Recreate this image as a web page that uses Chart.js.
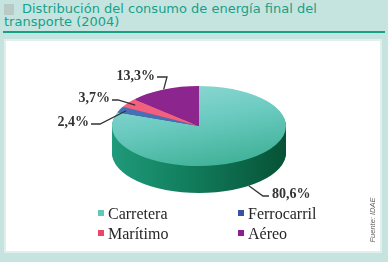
<!DOCTYPE html>
<html>
<head>
<meta charset="utf-8">
<script src="https://cdn.jsdelivr.net/npm/chart.js@4.4.1/dist/chart.umd.min.js"></script>
<style>
  body { margin: 0; width: 388px; height: 262px; background: #c6e4df; position: relative; overflow: hidden; font-family: "Liberation Sans", Arial, sans-serif; }
  .sq { position: absolute; left: 4px; top: 4px; width: 10px; height: 11px; background: #b9c9c5; }
  .title { position: absolute; left: 4px; top: 2px; width: 384px; font-family: "DejaVu Sans", sans-serif; font-size: 13px; line-height: 13px; color: #17a089; text-indent: 18px; white-space: nowrap; }
  .rule { position: absolute; left: 3px; top: 31px; width: 382px; height: 2px; background: #16a086; }
  .panel { position: absolute; left: 4px; top: 39px; width: 374px; height: 210px; background: #fff; border: 2px solid #e0efec; }
  #legend { position: absolute; left: 0; top: 0; font-family: "Liberation Serif", "Times New Roman", serif; font-size: 16px; color: #262626; }
  #legend div { position: absolute; white-space: nowrap; }
  #legend span { display: inline-block; width: 6px; height: 6px; margin-right: 4px; vertical-align: 3px; }
  .src { position: absolute; left: 351px; top: 217px; width: 42px; font-size: 7.5px; font-style: italic; color: #666; transform: rotate(-90deg); text-align: center; white-space: nowrap; }
  #wrap { position: absolute; left: 0; top: 0; width: 388px; height: 262px; }
</style>
</head>
<body>
<div class="sq"></div>
<div class="title">Distribución del consumo de energía final del<br>transporte (2004)</div>
<div class="rule"></div>
<div class="panel"></div>
<div id="wrap"><canvas id="pie"></canvas></div>
<div id="legend"></div>
<div class="src">Fuente: IDAE</div>
<script>
// ── Data ─────────────────────────────────────────────────────
const categories = ['Carretera', 'Ferrocarril', 'Marítimo', 'Aéreo'];
const shares = [80.6, 2.4, 3.7, 13.3];
const shareLabels = ['80,6%', '2,4%', '3,7%', '13,3%'];

// ── Styles ───────────────────────────────────────────────────
const topColors = ['#6fcdc2', '#4570b5', '#f2607f', '#8c268e'];
const keyColors = ['#5fc8b8', '#3552a3', '#ee4468', '#8a1f8f'];
const sideColors = ['#0f7555', '#2d4f8a', '#c53a5a', '#621a66'];
const TILT = 0.46;
const DEPTH = 27;

// label text anchor + elbow of the leader line
const labelPos = [[272, 198, 'left'], [89, 126, 'right'], [110, 102, 'right'], [155, 80, 'right']];
const elbows = [[263, 196], [100, 124], [118, 100], [167, 77]];
const reach = [1, 0.92, 0.9, 1];

// ── Legend ───────────────────────────────────────────────────
const legendSlots = [[98, 205], [238, 205], [98, 225], [238, 225]];
const legend = document.getElementById('legend');
categories.forEach((c, i) => {
  const d = document.createElement('div');
  d.style.left = legendSlots[i][0] + 'px';
  d.style.top = legendSlots[i][1] + 'px';
  d.innerHTML = `<span style="background:${keyColors[i]}"></span>${c}`;
  legend.appendChild(d);
});

// ── 3D pie plugin ────────────────────────────────────────────
const pie3d = {
  id: 'pie3d',
  beforeDatasetsDraw(chart) {
    const ctx = chart.ctx;
    const arcs = chart.getDatasetMeta(0).data;
    const cx = arcs[0].x, cy = arcs[0].y, r = arcs[0].outerRadius;

    // gradient in the translated frame (origin = pie centre)
    const side = ctx.createLinearGradient(-r, 0, r, 0);
    side.addColorStop(0, '#1f9a7a');
    side.addColorStop(0.4, '#12805f');
    side.addColorStop(1, '#075236');

    for (let d = DEPTH; d > 0; d--) {
      ctx.save();
      ctx.translate(cx, cy + d);
      ctx.scale(1, TILT);
      arcs.forEach((a, i) => {
        ctx.beginPath();
        ctx.moveTo(0, 0);
        ctx.arc(0, 0, a.outerRadius, a.startAngle, a.endAngle);
        ctx.closePath();
        ctx.fillStyle = i === 0 ? side : sideColors[i];
        ctx.fill();
      });
      ctx.restore();
    }
    ctx.save();
    ctx.translate(cx, cy);
    ctx.scale(1, TILT);
    ctx.translate(-cx, -cy);
  },
  afterDatasetsDraw(chart) {
    const ctx = chart.ctx;
    ctx.restore();
    const arcs = chart.getDatasetMeta(0).data;
    ctx.save();
    ctx.strokeStyle = '#333';
    ctx.lineWidth = 1.3;
    ctx.fillStyle = '#333';
    ctx.font = 'bold 14px "Liberation Serif", serif';
    ctx.textBaseline = 'alphabetic';
    arcs.forEach((a, i) => {
      const mid = (a.startAngle + a.endAngle) / 2;
      const ax = a.x + Math.cos(mid) * a.outerRadius * reach[i];
      const ay = a.y + Math.sin(mid) * a.outerRadius * reach[i] * TILT + (i === 0 ? DEPTH : 0);
      const [ex, ey] = elbows[i];
      const [tx, ty, align] = labelPos[i];
      const hx = align === 'left' ? tx - 3 : tx + 2;
      ctx.beginPath();
      ctx.moveTo(ax, ay);
      ctx.lineTo(ex, ey);
      ctx.lineTo(hx, ey);
      ctx.stroke();
      ctx.textAlign = align;
      ctx.fillText(shareLabels[i], tx, ty);
    });
    ctx.restore();
  }
};

// ── Chart ────────────────────────────────────────────────────
new Chart(document.getElementById('pie'), {
  type: 'pie',
  data: {
    labels: categories,
    datasets: [{
      data: shares,
      backgroundColor: (c) => {
        if (c.dataIndex !== 0) return topColors[c.dataIndex];
        const g = c.chart.ctx.createLinearGradient(150, -10, 250, 260);
        g.addColorStop(0, '#a2e0dd');
        g.addColorStop(0.45, '#6ccbc1');
        g.addColorStop(1, '#2aa583');
        return g;
      },
      borderWidth: 0,
      hoverOffset: 0
    }]
  },
  options: {
    responsive: true,
    maintainAspectRatio: false,
    animation: false,
    events: [],
    layout: { padding: { left: 112, right: 102, top: 39, bottom: 49 } },
    plugins: { legend: { display: false }, tooltip: { enabled: false } }
  },
  plugins: [pie3d]
});
</script>
</body>
</html>
